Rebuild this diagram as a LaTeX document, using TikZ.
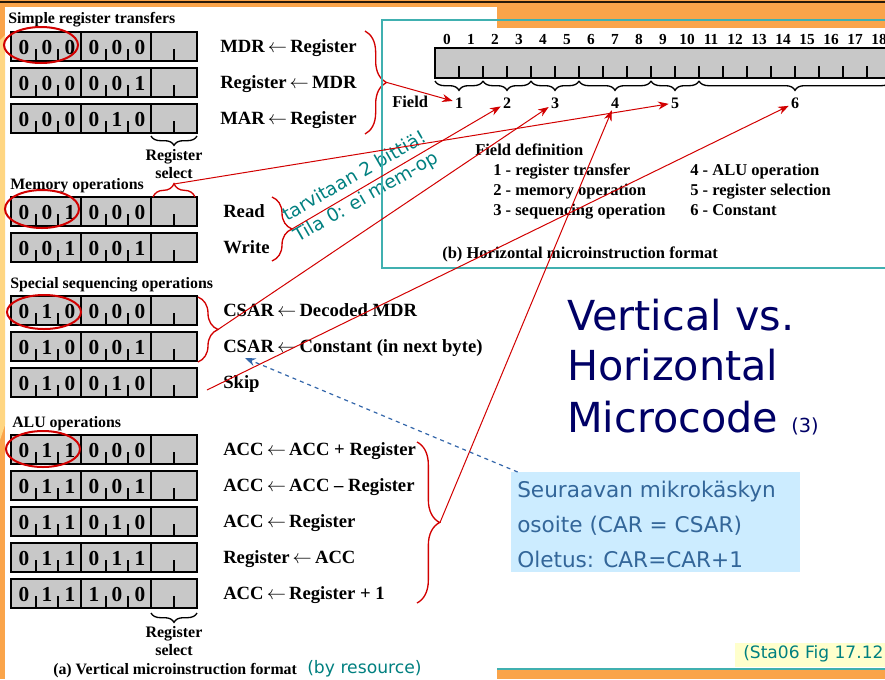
\documentclass[tikz,border=0pt]{standalone}
\usepackage{fontspec}
\setmainfont{Liberation Serif}
\newfontfamily\djv{DejaVu Sans}
\usetikzlibrary{decorations.pathreplacing,arrows.meta}
\definecolor{slideorange}{RGB}{250,164,74}
\definecolor{slideyellow}{RGB}{255,214,130}
\definecolor{darkline}{RGB}{40,25,10}
\definecolor{cellgray}{RGB}{200,200,200}
\definecolor{redline}{RGB}{210,0,0}
\definecolor{tealtext}{RGB}{0,128,128}
\definecolor{tealbox}{RGB}{64,176,176}
\definecolor{navytitle}{RGB}{0,0,102}
\definecolor{notefill}{RGB}{204,236,255}
\definecolor{notetext}{RGB}{51,102,153}
\definecolor{reffill}{RGB}{255,255,204}
\definecolor{arrowblue}{RGB}{51,102,170}

\newcommand\la{\,$\leftarrow$\,}
\newcommand\mrow[8]{%
  \node[cell,minimum width=52.5pt] (#1a) at (46,#2+14.5) {};
  \node[cell,minimum width=52.5pt] (#1b) at (116,#2+14.5) {};
  \node[cell,minimum width=34.5pt] (#1c) at (174,#2+14.5) {};
  \foreach \tx in {36,58,106,128,174} \draw[celltick] (\tx,#2+28.5) -- (\tx,#2+17);
  \node[dig] (#1d1) at (24,#2+22) {#3};
  \node[dig] (#1d2) at (47,#2+22) {#4};
  \node[dig] (#1d3) at (70,#2+22) {#5};
  \node[dig] (#1d4) at (94,#2+22) {#6};
  \node[dig] (#1d5) at (117,#2+22) {#7};
  \node[dig] (#1d6) at (140,#2+22) {#8};
}

\begin{document}
\begin{tikzpicture}[x=0.75pt,y=-0.75pt,
  cell/.style={draw=black,line width=1.5pt,fill=cellgray,inner sep=0pt,minimum height=21.75pt},
  celltick/.style={line width=1.5pt,black},
  dig/.style={font=\fontsize{16}{18}\selectfont\bfseries,anchor=base,inner sep=0pt},
  hdr/.style={font=\fontsize{11.9}{13}\selectfont\bfseries,anchor=base west,inner sep=0pt},
  lbl/.style={font=\fontsize{14}{16}\selectfont\bfseries,anchor=base west,inner sep=0pt},
  small/.style={font=\fontsize{12}{14}\selectfont\bfseries,anchor=base,inner sep=0pt},
  defn/.style={font=\fontsize{12.4}{14}\selectfont\bfseries,anchor=base west,inner sep=0pt},
  bitnum/.style={font=\fontsize{11.5}{13}\selectfont\bfseries,anchor=base,inner sep=0pt},
  fieldnum/.style={font=\fontsize{12}{14}\selectfont\bfseries,anchor=base,inner sep=1.5pt},
  blackbrace/.style={decorate,decoration={brace,amplitude=7pt},line width=1pt,black},
  redbrace/.style={decorate,decoration={brace,amplitude=15pt},line width=1pt,redline},
  redarrow/.style={redline,line width=0.75pt,-{Stealth[length=8pt,width=6pt]}},
  redring/.style={redline,line width=1.5pt},
  tealnote/.style={font=\djv\fontsize{13.8}{15}\selectfont,text=tealtext,anchor=base west,inner sep=0pt},
  title/.style={font=\djv\fontsize{31}{36}\selectfont,text=navytitle,anchor=base west,inner sep=0pt},
  notetxt/.style={font=\djv\fontsize{16.2}{20}\selectfont,text=notetext,anchor=base west,inner sep=0pt}
]
\useasboundingbox (0,0) rectangle (885,679);
\clip (0,0) rectangle (885,679);
\fill[white] (0,0) rectangle (885,679);
% slide frame
\fill[slideorange] (0,0) rectangle (885,7);
\fill[darkline] (0,1) rectangle (885,3);
\fill[slideorange] (497,7) rectangle (885,28);
\fill[slideorange] (0,7) rectangle (5,679);
\fill[slideyellow] (0,40) -- (5,35) -- (5,425) -- (0,440) -- cycle;
\fill[slideorange] (497,670) rectangle (885,679);
\draw[tealbox,line width=1.2pt] (497,669) -- (885,669);

% ---------- (a) vertical format ----------
\node[hdr] (h1) at (8,23) {Simple register transfers};
\node[hdr] (h2) at (10,189) {Memory operations};
\node[hdr] (h3) at (10,288) {Special sequencing operations};
\node[hdr] (h4) at (12,427) {ALU operations};

\mrow{s1}{32}{0}{0}{0}{0}{0}{0}
\mrow{s2}{68}{0}{0}{0}{0}{0}{1}
\mrow{s3}{104}{0}{0}{0}{0}{1}{0}
\mrow{m1}{197}{0}{0}{1}{0}{0}{0}
\mrow{m2}{233}{0}{0}{1}{0}{0}{1}
\mrow{q1}{296}{0}{1}{0}{0}{0}{0}
\mrow{q2}{332}{0}{1}{0}{0}{0}{1}
\mrow{q3}{368}{0}{1}{0}{0}{1}{0}
\mrow{a1}{435}{0}{1}{1}{0}{0}{0}
\mrow{a2}{471}{0}{1}{1}{0}{0}{1}
\mrow{a3}{507}{0}{1}{1}{0}{1}{0}
\mrow{a4}{543}{0}{1}{1}{0}{1}{1}
\mrow{a5}{579}{0}{1}{1}{1}{0}{0}

\node[lbl] (ls1) at (220,52) {MDR\la Register};
\node[lbl] (ls2) at (220,88) {Register\la MDR};
\node[lbl] (ls3) at (220,124) {MAR\la Register};
\node[lbl] (lm1) at (223,217) {Read};
\node[lbl] (lm2) at (223,253) {Write};
\node[lbl] (lq1) at (223,316) {CSAR\la Decoded MDR};
\node[lbl] (lq2) at (223,352) {CSAR\la Constant (in next byte)};
\node[lbl] (lq3) at (223,388) {Skip};
\node[lbl] (la1) at (223,455) {ACC\la ACC + Register};
\node[lbl] (la2) at (223,491) {ACC\la ACC – Register};
\node[lbl] (la3) at (223,527) {ACC\la Register};
\node[lbl] (la4) at (223,563) {Register\la ACC};
\node[lbl] (la5) at (223,599) {ACC\la Register + 1};

\draw[blackbrace] (197,136) -- (151,136);
\node[small] (rs1) at (174,160) {Register};
\node[small] (rs2) at (174,178) {select};
\draw[blackbrace] (197,613) -- (151,613);
\node[small] (rs3) at (174,637) {Register};
\node[small] (rs4) at (174,655) {select};

\node[hdr] (capa) at (53,674) {(a) Vertical microinstruction format};
\node[font=\djv\fontsize{12.9}{15}\selectfont,text=tealtext,anchor=base west,inner sep=0pt] (byres) at (307,673) {(by resource)};

% red rings
\draw[redring] (41,45) ellipse [x radius=37, y radius=18];
\draw[redring] (42,209) ellipse [x radius=37, y radius=19];
\draw[redring] (44,312) ellipse [x radius=37, y radius=17];
\draw[redring] (43,449) ellipse [x radius=37, y radius=18];

% red braces
\draw[redbrace,decoration={amplitude=16pt}] (365,31) -- (365,134);
\coordinate (tipS) at (387,82.5);
\draw[redbrace] (272,197) -- (272,261);
\coordinate (tipM) at (292,229);
\draw[redbrace] (198,297) -- (198,362);
\coordinate (tipQ) at (218,329.5);
\draw[redbrace,decoration={amplitude=17pt}] (417,442) -- (417,603);
\coordinate (tipA) at (440,522.5);
\draw[redbrace,decoration={amplitude=10pt}] (153,197) -- (195,197);
\coordinate (tipR) at (174,184);
\coordinate (tipK) at (207,390);

% teal notes
\node[tealnote,rotate=30] (n1) at (287,222) {tarvitaan 2 bittiä!};
\node[tealnote,rotate=30] (n2) at (298,243) {Tila 0: ei mem-op};

% ---------- (b) horizontal format ----------
\draw[tealbox,line width=1.2pt] (382,20) rectangle (905,268);
\draw[black,line width=1.6pt,fill=cellgray] (435,48) rectangle (905,78);
\foreach \k in {0,...,18} \draw[black,line width=2.2pt] ({459+24*\k},77) -- ({459+24*\k},66);
\foreach \k in {0,...,18} \node[bitnum] (bit\k) at ({447+24*\k},44) {\k};
\draw[blackbrace] (483,81) -- (435,81);
\draw[blackbrace] (531,81) -- (483,81);
\draw[blackbrace] (579,81) -- (531,81);
\draw[blackbrace] (651,81) -- (579,81);
\draw[blackbrace] (699,81) -- (651,81);
\draw[blackbrace] (891,81) -- (699,81);
\node[defn] (fieldlbl) at (392,107) {Field};
\node[fieldnum] (f1) at (459,108) {1};
\node[fieldnum] (f2) at (507,108) {2};
\node[fieldnum] (f3) at (555,108) {3};
\node[fieldnum] (f4) at (615,108) {4};
\node[fieldnum] (f5) at (675,108) {5};
\node[fieldnum] (f6) at (795,108) {6};

\node[defn] (fd) at (475,155) {Field definition};
\node[defn] (fd1) at (493,175) {1 - register transfer};
\node[defn] (fd2) at (493,195) {2 - memory operation};
\node[defn] (fd3) at (493,215) {3 - sequencing operation};
\node[defn] (fd4) at (690,175) {4 - ALU operation};
\node[defn] (fd5) at (690,195) {5 - register selection};
\node[defn] (fd6) at (690,215) {6 - Constant};
\node[defn] (capb) at (442,258) {(b) Horizontal microinstruction format};

% ---------- title and notes ----------
\node[title] (t1) at (567,330) {Vertical vs.};
\node[title] (t2) at (567,380) {Horizontal};
\node[title] (t3) at (567,432) {Microcode {\fontsize{14.5}{16}\selectfont(3)}};

\node[fill=notefill,minimum width=216.75pt,minimum height=75pt,anchor=north west,inner sep=0pt] (note) at (511,472) {};
\node[notetxt] (nt1) at (517,497) {Seuraavan mikrokäskyn};
\node[notetxt] (nt2) at (517,532) {osoite (CAR = CSAR)};
\node[notetxt] (nt3) at (517,567) {Oletus: CAR=CAR+1};

\node[fill=reffill,minimum width=112.5pt,minimum height=18pt,anchor=north west,inner sep=0pt] (refbox) at (735,643) {};
\node[font=\djv\fontsize{12.8}{15}\selectfont,text=tealtext,anchor=base west,inner sep=0pt] (ref) at (743,658) {(Sta06 Fig 17.12};

% ---------- connectors ----------
\draw[redarrow] (tipS) -- (f1);
\draw[redarrow] (tipM) -- (f2);
\draw[redarrow] (tipQ) -- (f3);
\draw[redarrow] (tipA) -- (f4);
\draw[redarrow] (tipR) -- (f5);
\draw[redarrow] (tipK) -- (f6);
\coordinate (csartgt) at (245,358);
\draw[arrowblue,line width=0.9pt,dashed,-{Stealth[length=8pt,width=6pt]}] ([xshift=5pt]note.north west) -- (csartgt);
\end{tikzpicture}
\end{document}
